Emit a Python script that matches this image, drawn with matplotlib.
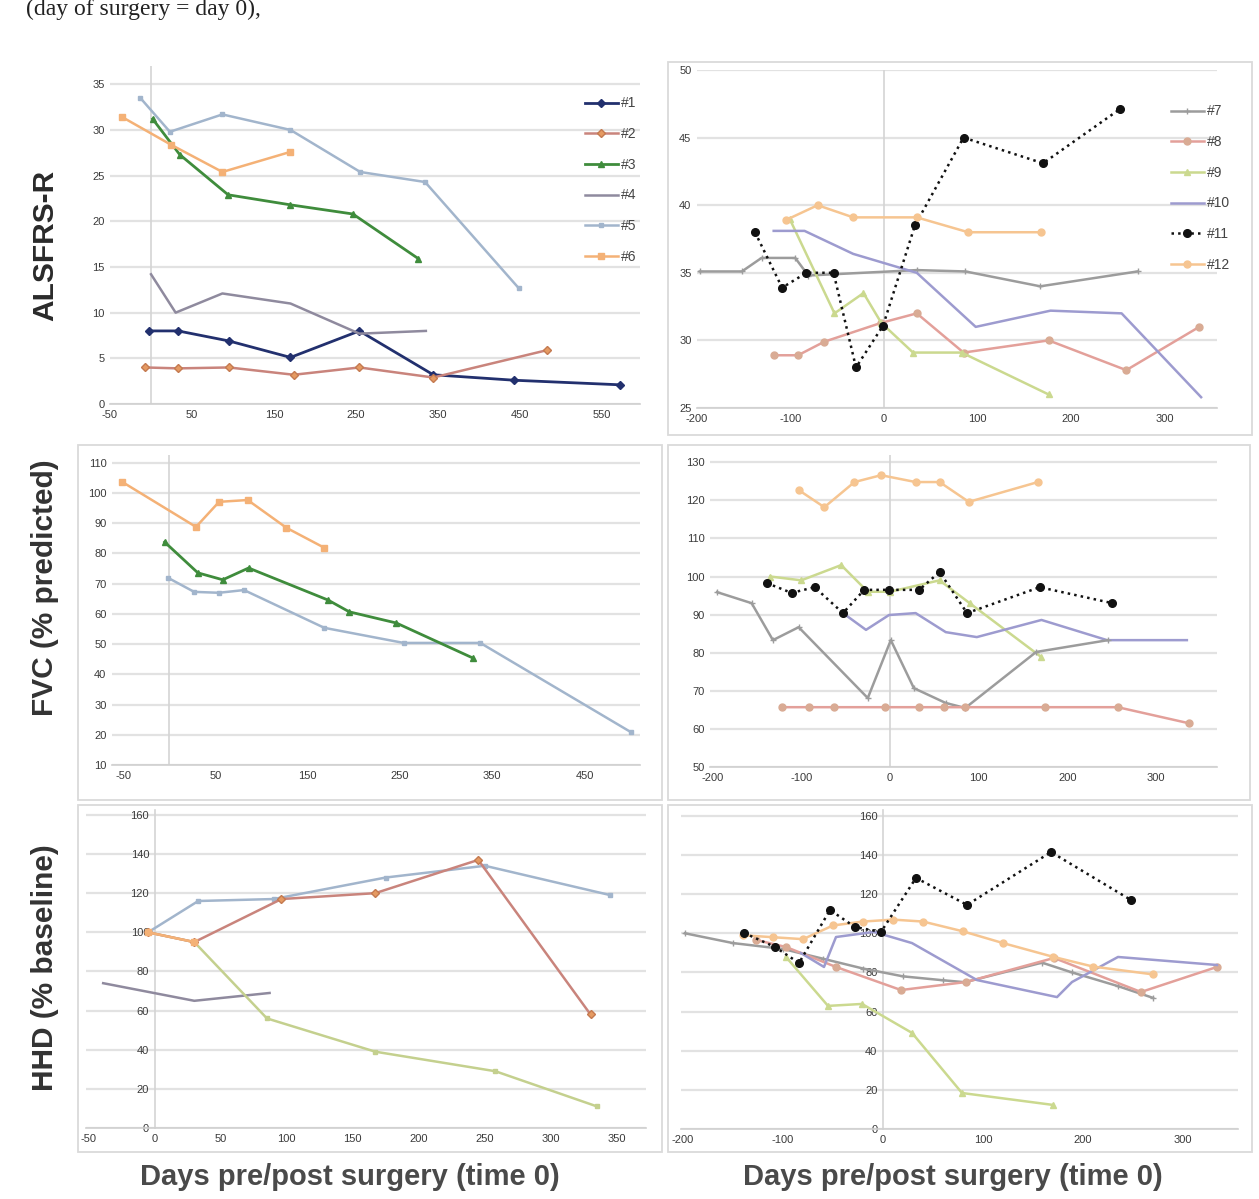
import matplotlib
matplotlib.use("Agg")
import matplotlib.pyplot as plt
from matplotlib.patches import Rectangle
from matplotlib.lines import Line2D

plt.rcParams['font.family'] = ['Liberation Sans', 'DejaVu Sans']
plt.rcParams['axes.unicode_minus'] = False

# ---------------- data ----------------
# ALSFRS-R, patients #1-#6 (days relative to surgery)
als_days_1 = [-2, 33, 95, 170, 254, 344, 443, 572]
als_val_1 = [8.0, 8.0, 6.9, 5.1, 8.0, 3.2, 2.6, 2.1]
als_days_2 = [-7, 33, 95, 174, 254, 344, 483]
als_val_2 = [4.0, 3.9, 4.0, 3.2, 4.0, 2.9, 5.9]
als_days_3 = [2, 35, 94, 170, 246, 326]
als_val_3 = [31.2, 27.3, 22.9, 21.8, 20.8, 15.9]
als_days_4 = [0, 30, 87, 170, 254, 335]
als_val_4 = [14.2, 10.0, 12.1, 11.0, 7.7, 8.0]
als_days_5 = [-13, 23, 87, 170, 255, 334, 448]
als_val_5 = [33.5, 29.8, 31.7, 30.0, 25.4, 24.3, 12.7]
als_days_6 = [-35, 24, 87, 170]
als_val_6 = [31.4, 28.4, 25.4, 27.6]

# ALSFRS-R, patients #7-#12
als_days_7 = [-197, -152, -131, -95, -81, 35, 87, 167, 271]
als_val_7 = [35.1, 35.1, 36.1, 36.1, 34.8, 35.2, 35.1, 34.0, 35.1]
als_days_8 = [-118, -92, -64, -3, 35, 85, 176, 259, 337]
als_val_8 = [28.9, 28.9, 29.9, 31.3, 32.0, 29.1, 30.0, 27.8, 31.0]
als_days_9 = [-101, -53, -22, -3, 31, 83, 176]
als_val_9 = [39.0, 32.0, 33.5, 31.3, 29.1, 29.1, 26.0]
als_days_10 = [-118, -85, -33, 35, 98, 178, 254, 339]
als_val_10 = [38.1, 38.1, 36.4, 35.0, 31.0, 32.2, 32.0, 25.8]
als_days_11 = [-138, -109, -83, -54, -30, -1, 33, 85, 170, 252]
als_val_11 = [38.0, 33.9, 35.0, 35.0, 28.0, 31.1, 38.5, 45.0, 43.1, 47.1]
als_days_12 = [-105, -71, -33, 35, 90, 168]
als_val_12 = [38.9, 40.0, 39.1, 39.1, 38.0, 38.0]

# FVC (% predicted), patients #3, #5, #6
fvc_days_3 = [-5, 31, 58, 86, 172, 195, 246, 329]
fvc_val_3 = [83.8, 73.6, 71.3, 75.2, 64.6, 60.7, 57.0, 45.4]
fvc_days_5 = [-1, 27, 54, 81, 168, 254, 337, 500]
fvc_val_5 = [71.9, 67.3, 67.0, 67.9, 55.4, 50.4, 50.4, 20.9]
fvc_days_6 = [-51, 29, 54, 85, 127, 168]
fvc_val_6 = [103.7, 88.8, 97.1, 97.7, 88.5, 81.9]

# FVC (% predicted), patients #7-#12
fvc_days_7 = [-195, -156, -132, -103, -25, 1, 27, 63, 85, 165, 246]
fvc_val_7 = [95.9, 93.0, 83.3, 86.7, 68.1, 83.3, 70.7, 66.8, 65.5, 80.2, 83.3]
fvc_days_8 = [-122, -91, -63, -6, 33, 61, 85, 175, 257, 337]
fvc_val_8 = [65.7, 65.7, 65.7, 65.7, 65.7, 65.7, 65.7, 65.7, 65.7, 61.5]
fvc_days_9 = [-135, -100, -55, -25, 0, 56, 90, 170]
fvc_val_9 = [100, 99, 103, 96, 96, 99, 93, 79]
fvc_days_10 = [-53, -27, -1, 29, 63, 98, 171, 245, 335]
fvc_val_10 = [90.4, 86.0, 89.9, 90.4, 85.4, 84.1, 88.6, 83.3, 83.3]
fvc_days_11 = [-139, -111, -85, -53, -29, -1, 33, 56, 87, 169, 251]
fvc_val_11 = [98.3, 95.7, 97.2, 90.4, 96.5, 96.5, 96.5, 101.2, 90.4, 97.2, 93.0]
fvc_days_12 = [-103, -74, -40, -10, 29, 56, 89, 167]
fvc_val_12 = [122.7, 118.2, 124.8, 126.6, 124.8, 124.8, 119.6, 124.8]

# HHD (% baseline), patients #2-#6
hhd_days_2 = [-5, 30, 96, 167, 245, 330]
hhd_val_2 = [100, 95, 117, 120, 137, 58]
hhd_days_3 = [-5, 30, 85, 167, 258, 335]
hhd_val_3 = [100, 95, 56, 39, 29, 11]
hhd_days_4 = [-39, 30, 87]
hhd_val_4 = [74, 65, 69]
hhd_days_5 = [-5, 33, 90, 175, 250, 345]
hhd_val_5 = [100, 116, 117, 128, 134, 119]
hhd_days_6 = [-5, 30]
hhd_val_6 = [100, 95]

# HHD (% baseline), patients #7-#12
hhd_days_7 = [-198, -150, -100, -60, -20, 20, 60, 82, 159, 189, 235, 270]
hhd_val_7 = [100, 95, 92, 87, 82, 78, 76, 75, 85, 80, 73, 67]
hhd_days_8 = [-127, -97, -47, 18, 83, 171, 258, 334]
hhd_val_8 = [96.6, 93.0, 82.8, 71.0, 75.1, 87.4, 70.0, 82.8]
hhd_days_9 = [-97, -55, -21, 29, 79, 170]
hhd_val_9 = [87.9, 62.9, 63.9, 49.1, 18.4, 12.3]
hhd_days_10 = [-82, -59, -47, -9, 29, 94, 174, 189, 235, 334]
hhd_val_10 = [89.9, 82.8, 98.1, 100.7, 95.0, 76.1, 67.4, 75.1, 87.9, 83.8]
hhd_days_11 = [-139, -108, -84, -53, -28, -2, 33, 84, 168, 248]
hhd_val_11 = [100.2, 93.0, 84.8, 111.9, 103.2, 100.7, 128.3, 114.5, 141.5, 117.0]
hhd_days_12 = [-140, -110, -80, -50, -20, 10, 40, 80, 120, 170, 210, 270]
hhd_val_12 = [99, 98, 97, 104, 106, 107, 106, 101, 95, 88, 83, 79]

group_a = ['#1', '#2', '#3', '#4', '#5', '#6']
group_b = ['#7', '#8', '#9', '#10', '#11', '#12']

als_ticks_a = [0, 5, 10, 15, 20, 25, 30, 35]
als_ticks_b = [25, 30, 35, 40, 45, 50]
fvc_ticks_a = [10, 20, 30, 40, 50, 60, 70, 80, 90, 100, 110]
fvc_ticks_b = [50, 60, 70, 80, 90, 100, 110, 120, 130]
hhd_ticks = [0, 20, 40, 60, 80, 100, 120, 140, 160]
day_ticks_a = [-50, 50, 150, 250, 350, 450, 550]
day_ticks_fvc_a = [-50, 50, 150, 250, 350, 450]
day_ticks_hhd_a = [-50, 0, 50, 100, 150, 200, 250, 300, 350]
day_ticks_b = [-200, -100, 0, 100, 200, 300]

# ---------------- styles ----------------
styles = {
    '#1': dict(color='#22306e', marker='D', ms=4.5, lw=2.0),
    '#2': dict(color='#c9847c', marker='D', ms=4.5, mfc='#e59a62', mec='#c47a50', lw=1.8),
    '#3': dict(color='#3f8c3c', marker='^', ms=5, lw=2.0),
    '#4': dict(color='#8f8a9e', marker=None, lw=1.8),
    '#5': dict(color='#a2b5cc', marker='s', ms=3.5, lw=1.8),
    '#6': dict(color='#f4b176', marker='s', ms=4.5, lw=1.8),
    '#7': dict(color='#9c9c9c', marker='+', ms=4, lw=1.8),
    '#8': dict(color='#e3a09a', marker='o', ms=5, mfc='#d9ab94', mec='#d9ab94', lw=1.8),
    '#9': dict(color='#cbd98f', marker='^', ms=5, lw=1.8),
    '#10': dict(color='#9d9bcf', marker=None, lw=1.8),
    '#11': dict(color='#111111', marker='o', ms=5.5, ls=':', lw=1.8),
    '#12': dict(color='#f6c591', marker='o', ms=5, lw=1.8),
}
hhd_a_styles = {'#3': dict(color='#c4d08e', marker='s', ms=3.5, lw=1.8)}

W, H = 1259, 1199
fig = plt.figure(figsize=(W / 100, H / 100), dpi=100)
fig.patch.set_facecolor('white')


def px_box(x0, y0, x1, y1):
    return [x0 / W, 1 - y1 / H, (x1 - x0) / W, (y1 - y0) / H]


def frame(x0, y0, x1, y1):
    fig.patches.append(Rectangle((x0 / W, 1 - y1 / H), (x1 - x0) / W, (y1 - y0) / H,
                                 transform=fig.transFigure, fill=False,
                                 edgecolor='#dadada', lw=1.3, zorder=0))


def make_axes(box, xlim, ylim, xticks, yticks, spine_at_zero=False):
    ax = fig.add_axes(px_box(*box))
    ax.set_facecolor('none')
    ax.set_xlim(*xlim)
    ax.set_ylim(*ylim)
    ax.set_xticks(xticks)
    ax.set_yticks(yticks)
    ax.yaxis.grid(True, color='#e2e2e2', lw=1.6)
    ax.set_axisbelow(True)
    for s in ('top', 'right'):
        ax.spines[s].set_visible(False)
    ax.spines['bottom'].set_color('#cfcfcf')
    ax.spines['bottom'].set_linewidth(1.2)
    if spine_at_zero:
        ax.spines['left'].set_position(('data', 0))
        ax.spines['left'].set_color('#d4d4d4')
        ax.spines['left'].set_linewidth(1.2)
    else:
        ax.spines['left'].set_visible(False)
        ax.axvline(0, color='#d4d4d4', lw=1.2, zorder=1)
    ax.tick_params(length=0, labelsize=8, colors='#3a3a3a', pad=4)
    return ax


def draw(ax, series, override=None):
    for label, d, v in series:
        st = dict(styles[label])
        if override and label in override:
            st = dict(override[label])
        ax.plot(d, v, zorder=3, **st)


# panel frames
frame(668, 62, 1252, 435)
frame(78, 445, 662, 800)
frame(668, 445, 1250, 800)
frame(78, 805, 662, 1152)
frame(668, 805, 1252, 1152)

# ALSFRS-R, #1-#6
ax1 = make_axes((110, 66, 640, 404), (-50, 596), (0, 37), day_ticks_a, als_ticks_a)
draw(ax1, [('#1', als_days_1, als_val_1), ('#2', als_days_2, als_val_2),
           ('#3', als_days_3, als_val_3), ('#4', als_days_4, als_val_4),
           ('#5', als_days_5, als_val_5), ('#6', als_days_6, als_val_6)])

# ALSFRS-R, #7-#12
ax2 = make_axes((697, 70, 1217, 408), (-200, 356), (25, 50), day_ticks_b, als_ticks_b)
draw(ax2, [('#7', als_days_7, als_val_7), ('#8', als_days_8, als_val_8),
           ('#9', als_days_9, als_val_9), ('#10', als_days_10, als_val_10),
           ('#11', als_days_11, als_val_11), ('#12', als_days_12, als_val_12)])

# FVC, #1-#6
ax3 = make_axes((112, 455, 640, 765), (-62, 510), (10, 112.6), day_ticks_fvc_a, fvc_ticks_a)
draw(ax3, [('#6', fvc_days_6, fvc_val_6), ('#5', fvc_days_5, fvc_val_5),
           ('#3', fvc_days_3, fvc_val_3)])

# FVC, #7-#12
ax4 = make_axes((710, 455, 1217, 767), (-203, 369), (50, 131.9), day_ticks_b, fvc_ticks_b)
draw(ax4, [('#12', fvc_days_12, fvc_val_12), ('#9', fvc_days_9, fvc_val_9),
           ('#10', fvc_days_10, fvc_val_10), ('#7', fvc_days_7, fvc_val_7),
           ('#8', fvc_days_8, fvc_val_8), ('#11', fvc_days_11, fvc_val_11)])

# HHD, #1-#6
ax5 = make_axes((86, 810, 646, 1128), (-52, 372), (0, 162.5), day_ticks_hhd_a, hhd_ticks,
                spine_at_zero=True)
draw(ax5, [('#4', hhd_days_4, hhd_val_4), ('#3', hhd_days_3, hhd_val_3),
           ('#5', hhd_days_5, hhd_val_5), ('#2', hhd_days_2, hhd_val_2),
           ('#6', hhd_days_6, hhd_val_6)], override=hhd_a_styles)

# HHD, #7-#12
ax6 = make_axes((681, 810, 1238, 1129), (-202, 355), (0, 163), day_ticks_b, hhd_ticks,
                spine_at_zero=True)
draw(ax6, [('#7', hhd_days_7, hhd_val_7), ('#8', hhd_days_8, hhd_val_8),
           ('#10', hhd_days_10, hhd_val_10), ('#12', hhd_days_12, hhd_val_12),
           ('#9', hhd_days_9, hhd_val_9), ('#11', hhd_days_11, hhd_val_11)])

# legends
for labels, anchor in ((group_a, (572 / W, 1 - 84 / H)), (group_b, (1158 / W, 1 - 92 / H))):
    handles = [Line2D([], [], **styles[k]) for k in labels]
    fig.legend(handles, labels, loc='upper left', bbox_to_anchor=anchor, frameon=False,
               fontsize=10, labelspacing=1.2, handlelength=2.4, handletextpad=0.2,
               labelcolor='#444444')

# axis titles
ylab = dict(fontsize=21.5, fontweight='bold', rotation=90, ha='center', va='center')
fig.text(45 / W, 1 - 245 / H, 'ALSFRS-R', color='#2a2a2a', **ylab)
fig.text(45 / W, 1 - 588 / H, 'FVC (% predicted)', color='#333333', **ylab)
fig.text(45 / W, 1 - 968 / H, 'HHD (% baseline)', color='#333333', **ylab)
xlab = dict(fontsize=21, fontweight='bold', ha='center', va='center', color='#4a4a4a')
fig.text(350 / W, 1 - 1177 / H, 'Days pre/post surgery (time 0)', **xlab)
fig.text(953 / W, 1 - 1177 / H, 'Days pre/post surgery (time 0)', **xlab)

fig.text(26 / W, 1 - 9 / H, '(day of surgery = day 0),', fontsize=17,
         family=['Liberation Serif', 'DejaVu Serif'], color='#222222', va='center')

fig.savefig('out.png', dpi=100)
